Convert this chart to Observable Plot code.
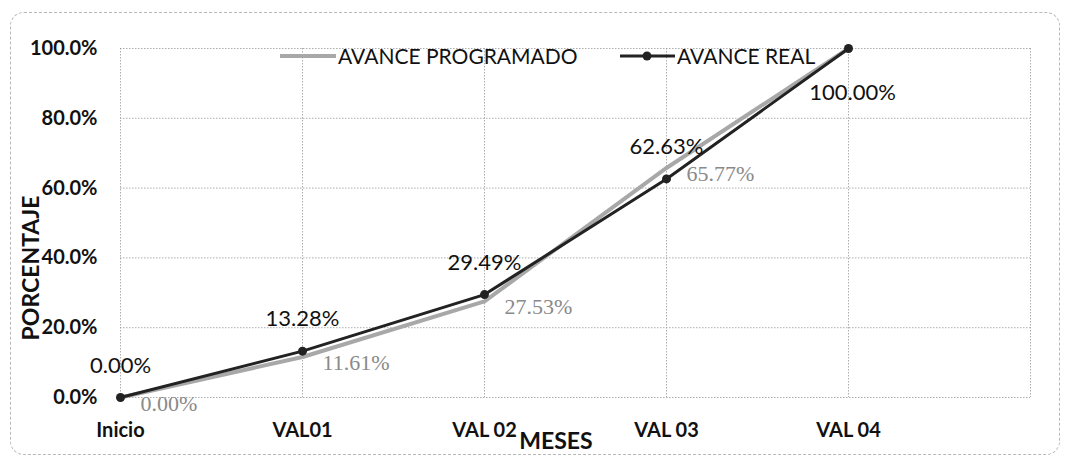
<!DOCTYPE html>
<html><head><meta charset="utf-8">
<script src="https://cdn.jsdelivr.net/npm/d3@7"></script>
<script src="https://cdn.jsdelivr.net/npm/@observablehq/plot@0.6"></script>
<style>
body{margin:0;background:#fff;}
#wrap{position:relative;width:1067px;height:461px;overflow:hidden;font-family:Lato,"Open Sans",sans-serif;}
#frame{position:absolute;left:10px;top:12px;width:1050px;height:443px;border:1px dashed #b8b8b8;border-radius:14px;box-sizing:border-box;pointer-events:none;}
#chart{position:absolute;left:0;top:0;}
.leg{position:absolute;top:43px;display:flex;align-items:center;font-size:21px;color:#111;white-space:nowrap;}
.ytitle{position:absolute;left:30px;top:268px;transform:translate(-50%,-50%) rotate(-90deg);font-weight:bold;font-size:23px;color:#111;white-space:nowrap;}
.xtitle{position:absolute;left:556px;top:440px;transform:translate(-50%,-50%);font-weight:bold;font-size:23px;color:#111;}
</style></head>
<body>
<div id="wrap">
  <div id="chart"></div>
  <div id="frame"></div>
  <div class="leg" style="left:280px"><svg width="58" height="20"><line x1="0" x2="56" y1="10" y2="10" stroke="#a8a8a8" stroke-width="4"/></svg><span>AVANCE PROGRAMADO</span></div>
  <div class="leg" style="left:620px"><svg width="57" height="20"><line x1="0" x2="55" y1="10" y2="10" stroke="#222" stroke-width="3"/><circle cx="27" cy="10" r="4.5" fill="#222"/></svg><span>AVANCE REAL</span></div>
  <div class="ytitle">PORCENTAJE</div>
  <div class="xtitle">MESES</div>
</div>
<script>
const categories = ["Inicio", "VAL01", "VAL 02", "VAL 03", "VAL 04"];
const programado = [0, 0.1161, 0.2753, 0.6577, 1.0];
const real = [0, 0.1328, 0.2949, 0.6263, 1.0];
const yTicks = [0, 0.2, 0.4, 0.6, 0.8, 1.0];

const fmt = d3.format(".2%");
const rowsP = categories.map((c, i) => ({i, c, v: programado[i]}));
const rowsR = categories.map((c, i) => ({i, c, v: real[i]}));
const xTicks = d3.range(categories.length + 1);

const chart = Plot.plot({
  width: 1067,
  height: 461,
  marginTop: 48,
  marginBottom: 64,
  marginLeft: 120,
  marginRight: 37,
  style: {fontFamily: "Lato, 'Open Sans', sans-serif", color: "#111", background: "transparent"},
  x: {type: "linear", domain: [0, categories.length], axis: null},
  y: {domain: [0, 1], axis: null},
  marks: [
    Plot.gridY(yTicks, {stroke: "#999", strokeOpacity: 0.8, strokeDasharray: "1.5,1.5"}),
    Plot.gridX(xTicks, {stroke: "#999", strokeOpacity: 0.8, strokeDasharray: "1.5,1.5"}),
    Plot.axisY(yTicks, {tickSize: 0, tickPadding: 23, tickFormat: d3.format(".1%"), fontSize: 20, fontWeight: "bold", label: null}),
    Plot.axisX(d3.range(categories.length), {tickSize: 0, tickPadding: 25, tickFormat: i => categories[i], fontSize: 20, fontWeight: "bold", label: null}),
    Plot.line(rowsP, {x: "i", y: "v", stroke: "#a8a8a8", strokeWidth: 4}),
    Plot.line(rowsR, {x: "i", y: "v", stroke: "#222", strokeWidth: 3}),
    Plot.dot(rowsR, {x: "i", y: "v", r: 4.5, fill: "#222"}),
    Plot.text(rowsP, {filter: d => d.i < categories.length - 1, x: "i", y: "v", text: d => fmt(d.v), textAnchor: "start", dx: 20, dy: 6, fill: "#8a8a8a", fontSize: 22, fontFamily: "'Liberation Serif', serif"}),
    Plot.text(rowsR, {filter: d => d.i < categories.length - 1, x: "i", y: "v", text: d => fmt(d.v), dy: -32, fill: "#111", fontSize: 22}),
    Plot.text(rowsR, {filter: d => d.i === categories.length - 1, x: "i", y: "v", text: d => fmt(d.v), dx: 4, dy: 44, fill: "#111", fontSize: 22})
  ]
});
document.getElementById("chart").appendChild(chart);
</script>
</body></html>
